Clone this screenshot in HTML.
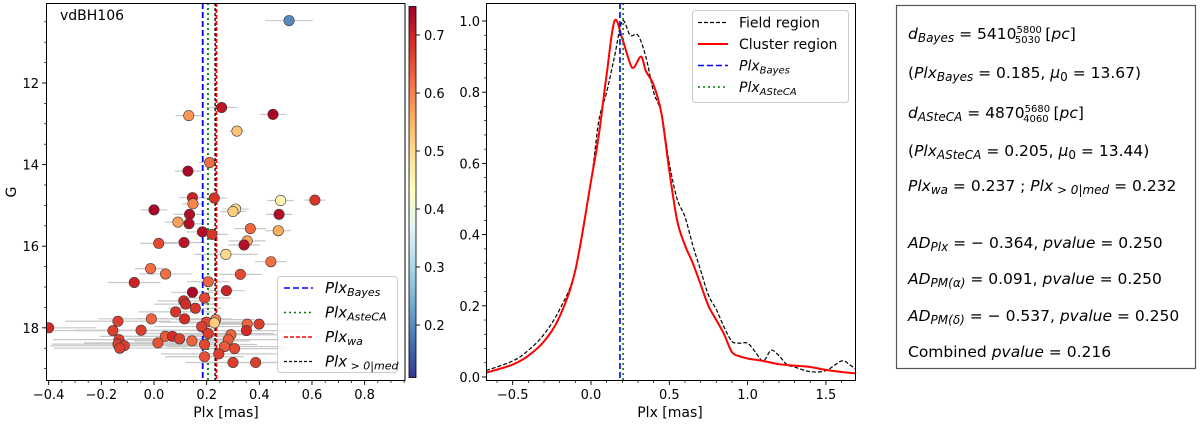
<!DOCTYPE html>
<html><head><meta charset="utf-8">
<style>
html,body{margin:0;padding:0;background:#fff;}
svg{display:block;font-family:"DejaVu Sans","Liberation Sans",sans-serif;}
</style></head>
<body>
<svg id="fig" width="1200" height="424" viewBox="0 0 1200 424" xmlns="http://www.w3.org/2000/svg">
  <defs>
    <linearGradient id="cbgrad" x1="0" y1="1" x2="0" y2="0">
      <stop offset="0" stop-color="#313695"/><stop offset="0.1" stop-color="#4575b4"/>
      <stop offset="0.2" stop-color="#74add1"/><stop offset="0.3" stop-color="#abd9e9"/>
      <stop offset="0.4" stop-color="#e0f3f8"/><stop offset="0.5" stop-color="#ffffbf"/>
      <stop offset="0.6" stop-color="#fee090"/><stop offset="0.7" stop-color="#fdae61"/>
      <stop offset="0.8" stop-color="#f46d43"/><stop offset="0.9" stop-color="#d73027"/>
      <stop offset="1" stop-color="#a50026"/>
    </linearGradient>
    <clipPath id="clipL"><rect x="46" y="3" width="359" height="377"/></clipPath>
    <clipPath id="clipM"><rect x="486" y="3" width="370" height="377"/></clipPath>
  </defs>
  <g id="left"></g>
  <g id="cbar"></g>
  <g id="mid"></g>
  <g id="right">
    <rect x="896.5" y="5.5" width="299" height="363" fill="#fff" stroke="#555" stroke-width="1.2"/>
    <g font-size="15.5" fill="#000">
      <text x="908" y="39"><tspan font-style="italic">d</tspan><tspan font-style="italic" font-size="12" dy="3">Bayes</tspan><tspan dy="-3"> = 5410</tspan><tspan font-size="10" dy="-6">5800</tspan><tspan font-size="10" dx="-27" dy="10">5030</tspan><tspan dy="-4"> [</tspan><tspan font-style="italic">pc</tspan><tspan>]</tspan></text>
      <text x="908" y="78">(<tspan font-style="italic">Plx</tspan><tspan font-style="italic" font-size="12" dy="3">Bayes</tspan><tspan dy="-3"> = 0.185,  </tspan><tspan font-style="italic">μ</tspan><tspan font-size="12" dy="3">0</tspan><tspan dy="-3"> = 13.67)</tspan></text>
      <text x="908" y="118"><tspan font-style="italic">d</tspan><tspan font-style="italic" font-size="12" dy="3">ASteCA</tspan><tspan dy="-3"> = 4870</tspan><tspan font-size="10" dy="-6">5680</tspan><tspan font-size="10" dx="-27" dy="10">4060</tspan><tspan dy="-4"> [</tspan><tspan font-style="italic">pc</tspan><tspan>]</tspan></text>
      <text x="908" y="156">(<tspan font-style="italic">Plx</tspan><tspan font-style="italic" font-size="12" dy="3">ASteCA</tspan><tspan dy="-3"> = 0.205,  </tspan><tspan font-style="italic">μ</tspan><tspan font-size="12" dy="3">0</tspan><tspan dy="-3"> = 13.44)</tspan></text>
      <text x="908" y="191"><tspan font-style="italic">Plx</tspan><tspan font-style="italic" font-size="12" dy="3">wa</tspan><tspan dy="-3"> = 0.237 ; </tspan><tspan font-style="italic">Plx</tspan><tspan font-style="italic" font-size="12" dy="3"> &gt; 0|med</tspan><tspan dy="-3"> = 0.232</tspan></text>
      <text x="908" y="248"><tspan font-style="italic">AD</tspan><tspan font-style="italic" font-size="12" dy="3">Plx</tspan><tspan dy="-3"> = − 0.364,  </tspan><tspan font-style="italic">pvalue</tspan><tspan> = 0.250</tspan></text>
      <text x="908" y="284"><tspan font-style="italic">AD</tspan><tspan font-style="italic" font-size="12" dy="3">PM(α)</tspan><tspan dy="-3"> = 0.091,  </tspan><tspan font-style="italic">pvalue</tspan><tspan> = 0.250</tspan></text>
      <text x="908" y="321"><tspan font-style="italic">AD</tspan><tspan font-style="italic" font-size="12" dy="3">PM(δ)</tspan><tspan dy="-3"> = − 0.537,  </tspan><tspan font-style="italic">pvalue</tspan><tspan> = 0.250</tspan></text>
      <text x="908" y="357">Combined <tspan font-style="italic">pvalue</tspan> = 0.216</text>
    </g>
  </g>
</svg>
<script>
// ---------- Left panel data ----------
const starPlx = [0.513,0.257,0.132,0.452,0.315,0.211,0.129,0.146,0.148,0.229,0.481,0.611,0.0,0.135,0.31,0.30,0.475,0.091,0.133,0.366,0.472,0.184,0.22,0.018,0.114,0.354,0.342,0.273,0.444,-0.013,0.044,0.328,0.206,-0.075,0.146,0.275,0.192,0.113,0.120,0.157,0.082,-0.01,0.116,-0.137,0.199,0.234,0.229,0.354,0.399,0.181,-0.4,-0.156,-0.049,0.351,0.206,0.043,0.07,0.097,0.292,-0.133,0.144,0.282,0.015,-0.137,-0.113,-0.13,0.192,0.268,0.306,0.246,0.192,0.30,0.386];
const starG = [10.47,12.60,12.80,12.77,13.18,13.95,14.16,14.81,14.96,14.82,14.88,14.87,15.11,15.22,15.09,15.15,15.22,15.41,15.45,15.57,15.62,15.65,15.71,15.93,15.91,15.87,15.97,16.20,16.38,16.55,16.68,16.69,16.87,16.89,17.13,17.09,17.27,17.34,17.42,17.52,17.61,17.78,17.78,17.84,17.86,17.80,17.88,17.91,17.91,17.97,18.0,18.07,18.06,18.07,18.14,18.21,18.21,18.27,18.17,18.29,18.32,18.29,18.37,18.40,18.44,18.50,18.41,18.46,18.51,18.64,18.71,18.85,18.85];
const starProb = [0.2,0.72,0.58,0.74,0.53,0.62,0.74,0.70,0.60,0.68,0.45,0.68,0.74,0.73,0.50,0.52,0.73,0.57,0.73,0.63,0.56,0.73,0.68,0.66,0.72,0.57,0.73,0.50,0.62,0.62,0.62,0.66,0.63,0.70,0.74,0.70,0.66,0.69,0.69,0.68,0.68,0.63,0.69,0.67,0.66,0.60,0.52,0.63,0.67,0.67,0.69,0.67,0.67,0.69,0.67,0.64,0.69,0.67,0.63,0.67,0.63,0.64,0.65,0.67,0.67,0.67,0.66,0.64,0.66,0.67,0.65,0.67,0.67];
const starErr = [0.09,0.06,0.05,0.05,0.03,0.04,0.05,0.05,0.04,0.05,0.05,0.04,0.05,0.06,0.05,0.05,0.05,0.05,0.05,0.06,0.05,0.06,0.06,0.07,0.08,0.07,0.06,0.12,0.06,0.06,0.10,0.08,0.08,0.10,0.08,0.07,0.10,0.10,0.12,0.10,0.14,0.20,0.18,0.20,0.18,0.15,0.12,0.18,0.20,0.18,0.18,0.22,0.25,0.22,0.25,0.25,0.22,0.20,0.18,0.25,0.22,0.20,0.28,0.25,0.28,0.25,0.20,0.22,0.20,0.22,0.15,0.18,0.18];
const leftXTicks = [-0.4,-0.2,0.0,0.2,0.4,0.6,0.8];
const leftYTicks = [12,14,16,18];
const cbTicks = [0.2,0.3,0.4,0.5,0.6,0.7];
const leftVLines = [0.185,0.205,0.237,0.232];
// ---------- Middle panel data ----------
const kdeX = [-0.67,-0.5,-0.4,-0.3,-0.2,-0.1,0.0,0.05,0.1,0.15,0.2,0.25,0.275,0.32,0.35,0.4,0.45,0.5,0.55,0.6,0.65,0.7,0.75,0.8,0.85,0.9,0.95,1.0,1.1,1.2,1.3,1.4,1.5,1.6,1.7];
const clusterY = [0.012,0.035,0.06,0.10,0.17,0.30,0.55,0.68,0.85,1.0,0.95,0.88,0.87,0.90,0.86,0.82,0.74,0.58,0.44,0.37,0.32,0.26,0.20,0.16,0.12,0.07,0.058,0.052,0.045,0.036,0.032,0.028,0.02,0.014,0.01];
const fieldX = [-0.67,-0.5,-0.4,-0.3,-0.2,-0.1,0.0,0.05,0.1,0.15,0.2,0.25,0.3,0.35,0.4,0.45,0.5,0.55,0.6,0.65,0.7,0.75,0.8,0.85,0.9,0.95,1.0,1.05,1.1,1.15,1.2,1.25,1.3,1.4,1.5,1.6,1.65,1.7];
const fieldY = [0.018,0.045,0.075,0.12,0.19,0.30,0.55,0.72,0.80,0.90,1.0,0.96,0.96,0.90,0.80,0.74,0.60,0.50,0.45,0.37,0.30,0.23,0.19,0.14,0.10,0.095,0.095,0.07,0.045,0.075,0.06,0.035,0.028,0.015,0.018,0.045,0.035,0.018];
const midXTicks = [-0.5,0.0,0.5,1.0,1.5];
const midYTicks = [0.0,0.2,0.4,0.6,0.8,1.0];
const midVLines = [0.185,0.205];

const NS = "http://www.w3.org/2000/svg";
function mk(parent, tag, attrs){const e=document.createElementNS(NS,tag);for(const k in attrs)e.setAttribute(k,attrs[k]);parent.appendChild(e);return e;}

const lx = v => 154 + (v-0)*263.3;
const ly = g => 83 + (g-12)*40.8;
const cy = v => 35 + (0.7-v)*580;
const mx = v => 591 + v*156.6;
const my = v => 377 - v*356;

const cmapStops=["#313695","#4575b4","#74add1","#abd9e9","#e0f3f8","#ffffbf","#fee090","#fdae61","#f46d43","#d73027","#a50026"];
function hex2rgb(h){return [1,3,5].map(i=>parseInt(h.substr(i,2),16));}
function cmap(v){const vmin=0.114,vmax=0.748;let t=(v-vmin)/(vmax-vmin);t=Math.max(0,Math.min(1,t))*10;const i=Math.min(9,Math.floor(t));const f=t-i;const a=hex2rgb(cmapStops[i]),b=hex2rgb(cmapStops[i+1]);return "rgb("+a.map((c,j)=>Math.round(c+(b[j]-c)*f)).join(",")+")";}

// ---------- Left panel ----------
const L=document.getElementById('left');
const plotL=mk(L,'g',{'clip-path':'url(#clipL)'});


for(let i=0;i<starPlx.length;i++){
  const eb=mk(plotL,'line',{x1:lx(starPlx[i]-starErr[i]),x2:lx(starPlx[i]+starErr[i]),y1:ly(starG[i]),y2:ly(starG[i]),stroke:'#c8c8c8','stroke-width':1.2});
  
  
}
const vcol=['#0000ff','#008000','#ff0000','#000000'];
const vdash=['6,3','2,3','4,2','3,2'];
const vnames=['plx-bayes-line','plx-asteca-line','plx-wa-line','plx-med-line'];
[3,0,1,2].forEach(i=>{
  const l=mk(plotL,'line',{x1:lx(leftVLines[i]),x2:lx(leftVLines[i]),y1:3,y2:380,stroke:vcol[i],'stroke-width':i==3?1.3:1.8,'stroke-dasharray':vdash[i]});
  
  
});
for(let i=0;i<starPlx.length;i++){
  const c=mk(plotL,'circle',{cx:lx(starPlx[i]),cy:ly(starG[i]),r:5.2,fill:cmap(starProb[i]),stroke:'#3a3a3a','stroke-width':0.6});
  
  
}
const fr=mk(L,'rect',{x:46.5,y:3.5,width:358.5,height:377,fill:'none',stroke:'#000','stroke-width':1});


for(let v=-0.4;v<=0.96;v+=0.05){const t=mk(L,'line',{x1:lx(v),x2:lx(v),y1:380.5,y2:383,stroke:'#000','stroke-width':0.7});}
leftXTicks.forEach(v=>{
  const t=mk(L,'line',{x1:lx(v),x2:lx(v),y1:380.5,y2:385,stroke:'#000','stroke-width':0.9});
  
  
  const tx=mk(L,'text',{x:lx(v),y:399,'font-size':13,'text-anchor':'middle'});
  tx.textContent=(v<0?'−':'')+Math.abs(v).toFixed(1);
  
  
});
for(let g=10.5;g<=19.25;g+=0.5){const t=mk(L,'line',{x1:44,x2:46.5,y1:ly(g),y2:ly(g),stroke:'#000','stroke-width':0.7});}
leftYTicks.forEach(v=>{
  const t=mk(L,'line',{x1:42,x2:46.5,y1:ly(v),y2:ly(v),stroke:'#000','stroke-width':0.9});
  
  
  const tx=mk(L,'text',{x:39,y:ly(v)+5,'font-size':13,'text-anchor':'end'});
  tx.textContent=v;
  
  
});
let t;
t=mk(L,'text',{x:226,y:417,'font-size':14,'text-anchor':'middle'});t.textContent='Plx [mas]';


t=mk(L,'text',{x:16,y:192,'font-size':14,'text-anchor':'middle',transform:'rotate(-90 16 192)'});t.textContent='G';


t=mk(L,'text',{x:60,y:20,'font-size':14});t.textContent='vdBH106';


const lg=mk(L,'g',{});


mk(lg,'rect',{x:277.5,y:276.5,width:120,height:96,rx:3,fill:'rgba(255,255,255,0.8)',stroke:'#ccc','stroke-width':1});
const legLabels=[['Plx','Bayes'],['Plx','AsteCA'],['Plx','wa'],['Plx',' > 0|med']];
legLabels.forEach((lab,i)=>{
  const y=288+i*24.5;
  const l=mk(lg,'line',{x1:284,x2:313,y1:y,y2:y,stroke:vcol[i],'stroke-width':i==3?1.2:1.6,'stroke-dasharray':vdash[i]});
  
  
  const tx=mk(lg,'text',{x:325,y:y+5,'font-size':15,'font-style':'italic'});
  tx.innerHTML=lab[0]+'<tspan font-size="11" dy="3">'+lab[1]+'</tspan>';
  
  
});

// ---------- Colorbar ----------
const C=document.getElementById('cbar');
mk(C,'rect',{x:409,y:6.5,width:7,height:371,fill:'url(#cbgrad)',stroke:'#000','stroke-width':0.8});
cbTicks.forEach(v=>{
  const tk=mk(C,'line',{x1:416,x2:420,y1:cy(v),y2:cy(v),stroke:'#000','stroke-width':0.9});
  
  
  const tx=mk(C,'text',{x:424,y:cy(v)+5,'font-size':13});
  tx.textContent=v.toFixed(1);
  
  
});

// ---------- Middle panel ----------
const M=document.getElementById('mid');
const plotM=mk(M,'g',{'clip-path':'url(#clipM)'});


function smoothPath(xs,ys){
  const p=xs.map((x,i)=>[mx(x),my(ys[i])]);
  let d='M'+p[0][0]+','+p[0][1];
  for(let i=0;i<p.length-1;i++){
    const p0=p[Math.max(0,i-1)],p1=p[i],p2=p[i+1],p3=p[Math.min(p.length-1,i+2)];
    const c1=[p1[0]+(p2[0]-p0[0])/6,p1[1]+(p2[1]-p0[1])/6];
    const c2=[p2[0]-(p3[0]-p1[0])/6,p2[1]-(p3[1]-p1[1])/6];
    d+=' C'+c1[0]+','+c1[1]+' '+c2[0]+','+c2[1]+' '+p2[0]+','+p2[1];
  }
  return d;
}
const fp=mk(plotM,'path',{d:smoothPath(fieldX,fieldY),fill:'none',stroke:'#000','stroke-width':1.2,'stroke-dasharray':'4,2'});


const cp=mk(plotM,'path',{d:smoothPath(kdeX,clusterY),fill:'none',stroke:'#ff0000','stroke-width':2});


[0,1].forEach(i=>{
  const l=mk(plotM,'line',{x1:mx(midVLines[i]),x2:mx(midVLines[i]),y1:3,y2:380,stroke:vcol[i],'stroke-width':1.6,'stroke-dasharray':vdash[i]});
  
  
});
const fm=mk(M,'rect',{x:486.5,y:3.5,width:369,height:377,fill:'none',stroke:'#000','stroke-width':1});


for(let v=-0.6;v<=1.7;v+=0.1){const tk=mk(M,'line',{x1:mx(v),x2:mx(v),y1:380.5,y2:383,stroke:'#000','stroke-width':0.7});}
midXTicks.forEach(v=>{
  const tk=mk(M,'line',{x1:mx(v),x2:mx(v),y1:380.5,y2:385,stroke:'#000','stroke-width':0.9});
  
  
  const tx=mk(M,'text',{x:mx(v),y:399,'font-size':13,'text-anchor':'middle'});
  tx.textContent=(v<0?'−':'')+Math.abs(v).toFixed(1);
  
  
});
for(let v=0;v<=1.02;v+=0.04){const tk=mk(M,'line',{x1:484,x2:486.5,y1:my(v),y2:my(v),stroke:'#000','stroke-width':0.7});}
midYTicks.forEach(v=>{
  const tk=mk(M,'line',{x1:482,x2:486.5,y1:my(v),y2:my(v),stroke:'#000','stroke-width':0.9});
  
  
  const tx=mk(M,'text',{x:480,y:my(v)+5,'font-size':13,'text-anchor':'end'});
  tx.textContent=v.toFixed(1);
  
  
});
t=mk(M,'text',{x:670,y:417,'font-size':14,'text-anchor':'middle'});t.textContent='Plx [mas]';


const lg2=mk(M,'g',{});


mk(lg2,'rect',{x:692.5,y:10.5,width:156,height:92,rx:3,fill:'rgba(255,255,255,0.8)',stroke:'#ccc','stroke-width':1});
const l2 = [['Field region','#000','4,2',1.2,false],['Cluster region','#ff0000','',2,false],['Plx|Bayes','#0000ff','6,3',1.6,true],['Plx|ASteCA','#008000','2,3',1.6,true]];
l2.forEach((e,i)=>{
  const y=22.5+i*21.5;
  const l=mk(lg2,'line',{x1:698,x2:728,y1:y,y2:y,stroke:e[1],'stroke-width':e[3]});
  if(e[2])l.setAttribute('stroke-dasharray',e[2]);
  
  
  const tx=mk(lg2,'text',{x:739,y:y+5,'font-size':14});
  if(e[4]){const p=e[0].split('|');tx.setAttribute('font-style','italic');tx.innerHTML=p[0]+'<tspan font-size="10" dy="3">'+p[1]+'</tspan>';}
  else tx.textContent=e[0];
  
  
});
</script>
</body></html>
